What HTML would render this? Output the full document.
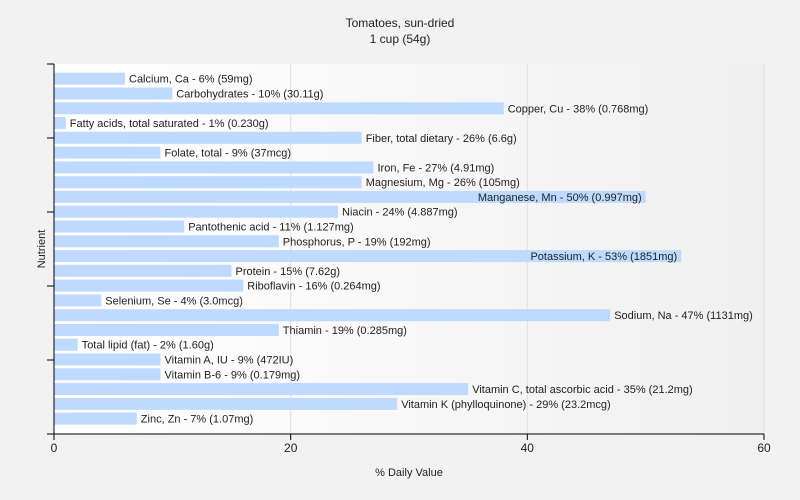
<!DOCTYPE html>
<html><head><style>
body{margin:0;background:#f2f2f2;}
svg{display:block;font-family:"Liberation Sans",sans-serif;}
</style></head><body>
<svg width="800" height="500" xmlns="http://www.w3.org/2000/svg">
<defs><linearGradient id="g" x1="0" x2="1" y1="0" y2="0"><stop offset="0" stop-color="#ffffff"/><stop offset="1" stop-color="#f0f0f0"/></linearGradient></defs>
<rect x="0" y="0" width="800" height="500" fill="#f2f2f2"/>
<rect x="54" y="64" width="710" height="370" fill="url(#g)"/>
<line x1="290.7" y1="64" x2="290.7" y2="434" stroke="#e0e0e0"/>
<line x1="527.3" y1="64" x2="527.3" y2="434" stroke="#e0e0e0"/>
<line x1="764" y1="64" x2="764" y2="434" stroke="#e0e0e0"/>
<text x="400" y="27" font-size="12" text-anchor="middle" fill="#222">Tomatoes, sun-dried</text>
<text x="400" y="43" font-size="12" text-anchor="middle" fill="#222">1 cup (54g)</text>
<g fill="#bfdaff">
<rect x="54" y="72.7" width="71.0" height="12"/>
<rect x="54" y="87.5" width="118.3" height="12"/>
<rect x="54" y="102.3" width="449.7" height="12"/>
<rect x="54" y="117.0" width="11.8" height="12"/>
<rect x="54" y="131.8" width="307.7" height="12"/>
<rect x="54" y="146.6" width="106.5" height="12"/>
<rect x="54" y="161.4" width="319.5" height="12"/>
<rect x="54" y="176.2" width="307.7" height="12"/>
<rect x="54" y="190.9" width="591.7" height="12"/>
<rect x="54" y="205.7" width="284.0" height="12"/>
<rect x="54" y="220.5" width="130.2" height="12"/>
<rect x="54" y="235.3" width="224.8" height="12"/>
<rect x="54" y="250.1" width="627.2" height="12"/>
<rect x="54" y="264.8" width="177.5" height="12"/>
<rect x="54" y="279.6" width="189.3" height="12"/>
<rect x="54" y="294.4" width="47.3" height="12"/>
<rect x="54" y="309.2" width="556.2" height="12"/>
<rect x="54" y="324.0" width="224.8" height="12"/>
<rect x="54" y="338.7" width="23.7" height="12"/>
<rect x="54" y="353.5" width="106.5" height="12"/>
<rect x="54" y="368.3" width="106.5" height="12"/>
<rect x="54" y="383.1" width="414.2" height="12"/>
<rect x="54" y="397.9" width="343.2" height="12"/>
<rect x="54" y="412.6" width="82.8" height="12"/>
</g>
<g font-size="11" fill="#222">
<text x="129.0" y="82.7">Calcium, Ca - 6% (59mg)</text>
<text x="176.3" y="97.5">Carbohydrates - 10% (30.11g)</text>
<text x="507.7" y="112.3">Copper, Cu - 38% (0.768mg)</text>
<text x="69.8" y="127.0">Fatty acids, total saturated - 1% (0.230g)</text>
<text x="365.7" y="141.8">Fiber, total dietary - 26% (6.6g)</text>
<text x="164.5" y="156.6">Folate, total - 9% (37mcg)</text>
<text x="377.5" y="171.4">Iron, Fe - 27% (4.91mg)</text>
<text x="365.7" y="186.2">Magnesium, Mg - 26% (105mg)</text>
<text x="641.7" y="200.9" text-anchor="end">Manganese, Mn - 50% (0.997mg)</text>
<text x="342.0" y="215.7">Niacin - 24% (4.887mg)</text>
<text x="188.2" y="230.5">Pantothenic acid - 11% (1.127mg)</text>
<text x="282.8" y="245.3">Phosphorus, P - 19% (192mg)</text>
<text x="677.2" y="260.1" text-anchor="end">Potassium, K - 53% (1851mg)</text>
<text x="235.5" y="274.8">Protein - 15% (7.62g)</text>
<text x="247.3" y="289.6">Riboflavin - 16% (0.264mg)</text>
<text x="105.3" y="304.4">Selenium, Se - 4% (3.0mcg)</text>
<text x="614.2" y="319.2">Sodium, Na - 47% (1131mg)</text>
<text x="282.8" y="334.0">Thiamin - 19% (0.285mg)</text>
<text x="81.7" y="348.7">Total lipid (fat) - 2% (1.60g)</text>
<text x="164.5" y="363.5">Vitamin A, IU - 9% (472IU)</text>
<text x="164.5" y="378.3">Vitamin B-6 - 9% (0.179mg)</text>
<text x="472.2" y="393.1">Vitamin C, total ascorbic acid - 35% (21.2mg)</text>
<text x="401.2" y="407.9">Vitamin K (phylloquinone) - 29% (23.2mcg)</text>
<text x="140.8" y="422.6">Zinc, Zn - 7% (1.07mg)</text>
</g>
<line x1="54" y1="64" x2="54" y2="434" stroke="#000"/>
<line x1="47" y1="434" x2="764" y2="434" stroke="#000"/>
<g stroke="#000">
<line x1="47" y1="64" x2="54" y2="64"/><line x1="47" y1="138" x2="54" y2="138"/><line x1="47" y1="212" x2="54" y2="212"/><line x1="47" y1="286" x2="54" y2="286"/><line x1="47" y1="360" x2="54" y2="360"/>
<line x1="54" y1="434" x2="54" y2="440"/><line x1="290.7" y1="434" x2="290.7" y2="440"/><line x1="527.3" y1="434" x2="527.3" y2="440"/><line x1="764" y1="434" x2="764" y2="440"/>
</g>
<g font-size="12" text-anchor="middle" fill="#222">
<text x="54" y="452">0</text><text x="290.7" y="452">20</text><text x="527.3" y="452">40</text><text x="764" y="452">60</text>
</g>
<text x="409" y="476" font-size="11" text-anchor="middle" fill="#222">% Daily Value</text>
<text x="45" y="249" font-size="11" text-anchor="middle" fill="#222" transform="rotate(-90 45 249)">Nutrient</text>
</svg>
</body></html>
